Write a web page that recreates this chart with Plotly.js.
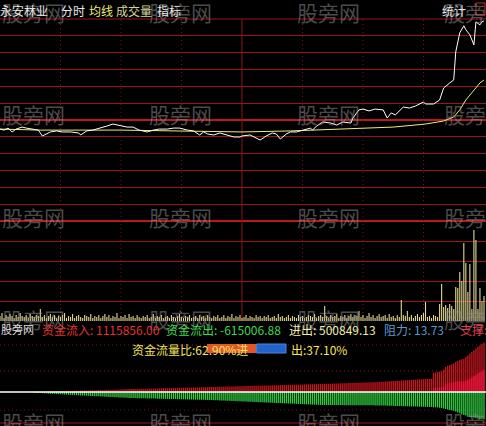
<!DOCTYPE html>
<html>
<head>
<meta charset="utf-8">
<script src="https://cdn.plot.ly/plotly-3.0.1.min.js"></script>
<style>
  html, body { margin: 0; padding: 0; background: #000; }
  #chart { width: 486px; height: 426px; }
</style>
</head>
<body>
<div id="chart"></div>
<script>
// ---- intraday data (minute index 0..240) ----
const stockName = '永安林业';

// price, % change vs previous close
const priceMin = [0, 2, 4, 6, 8, 10, 11, 13, 16, 19, 21, 22, 25, 28, 31, 35, 39, 40, 43, 46,
  50, 53, 56, 60, 63, 66, 69, 73, 76, 79, 83, 86, 89, 93, 96, 99, 101, 103, 106, 109,
  113, 116, 119, 120, 124, 127, 129, 132, 135, 137, 139, 142, 144, 147, 150, 154, 155, 157, 160, 164,
  167, 170, 174, 175, 178, 180, 183, 186, 190, 192, 194, 196, 200, 203, 206, 210, 211, 215, 218, 220,
  223, 225, 226, 228, 230, 231, 233, 235, 236, 238, 239, 240];
const pricePct = [-0.54, -0.60, -0.48, -0.71, -0.54, -0.48, -0.42, -0.48, -0.54, -0.60, -0.95, -0.89, -0.71, -0.65, -0.71, -0.71, -0.77, -0.89, -0.65, -0.60,
  -0.48, -0.36, -0.24, -0.36, -0.42, -0.42, -0.60, -0.71, -0.60, -0.54, -0.54, -0.48, -0.48, -0.60, -0.65, -0.89, -0.71, -0.83, -0.89, -0.77,
  -0.89, -1.01, -1.01, -0.95, -0.89, -1.07, -1.19, -0.95, -0.77, -0.83, -1.13, -0.83, -0.71, -0.71, -0.60, -0.48, -0.60, -0.36, -0.12, -0.18,
  -0.30, -0.12, -0.18, 0.12, 0.60, 0.65, 0.54, 0.65, 0.60, 0.12, 0.42, 0.30, 0.77, 0.71, 0.83, 1.07, 0.95, 0.95, 1.19, 1.90,
  2.20, 2.38, 4.05, 5.18, 5.60, 5.36, 5.06, 4.46, 5.83, 5.65, 5.83, 5.89];

// average price line, % change
const avgMin = [0, 20, 60, 99, 120, 144, 170, 195, 211, 220, 225, 228, 231, 235, 238, 240];
const avgPct = [-0.54, -0.60, -0.60, -0.65, -0.71, -0.65, -0.54, -0.42, -0.24, -0.06, 0.18, 0.60, 1.19, 1.79, 2.20, 2.38];

// volume per minute (lots)
const volume = [
  500, 800, 300, 600, 400, 700, 500, 300, 600, 400,
  800, 500, 400, 600, 300, 700, 500, 400, 600, 500,
  1200, 400, 600, 300, 500, 700, 400, 600, 300, 500,
  400, 600, 800, 300, 500, 400, 700, 300, 500, 600,
  400, 300, 600, 500, 400, 700, 300, 500, 400, 600,
  300, 500, 700, 400, 600, 300, 500, 400, 800, 300,
  500, 400, 600, 300, 700, 400, 500, 300, 600, 400,
  300, 500, 400, 600, 300, 400, 700, 300, 500, 400,
  600, 300, 400, 500, 300, 600, 400, 300, 500, 700,
  400, 300, 500, 400, 600, 300, 400, 500, 300, 600,
  400, 500, 300, 600, 400, 300, 500, 400, 600, 300,
  400, 600, 300, 500, 400, 700, 300, 500, 400, 600,
  300, 400, 600, 300, 500, 400, 300, 600, 400, 500,
  300, 500, 400, 600, 300, 400, 500, 300, 700, 400,
  500, 300, 400, 600, 300, 500, 400, 300, 600, 400,
  500, 300, 400, 600, 500, 400, 700, 300, 500, 600,
  400, 1500, 500, 300, 600, 400, 500, 700, 300, 500,
  400, 600, 300, 500, 700, 400, 600, 500, 1000, 400,
  600, 300, 500, 800, 400, 600, 300, 500, 700, 400,
  500, 600, 300, 700, 400, 500, 300, 600, 400, 2100,
  600, 500, 1000, 400, 600, 300, 500, 700, 400, 600,
  800, 1900, 400, 500, 300, 600, 500, 400, 1700, 3700,
  1400, 1600, 1300, 1700, 1500, 1200, 3400, 3300, 4900, 4000,
  7800, 5800, 2900, 5700, 1200, 9100, 8100, 1200, 3300, 2000, 2500];

// cumulative money inflow (yuan)
const inflow = [
  0, 0, 0, 0, 0, 0, 0, 0, 0, 0, 0, 0, 0, 0, 0, 0, 0,
  7000, 9000, 9000, 11000, 11000, 13000, 14000, 16000, 18000, 18000, 20000,
  22000, 23000, 24000, 24000, 25000, 26000, 27000, 28000, 28000, 29000, 30000, 31000, 32000, 33000, 34000, 35000, 36000, 38000, 39000, 41000, 42000, 44000,
  45000, 46000, 48000, 49000, 51000, 52000, 53000, 55000, 56000, 57000, 59000, 60000, 62000, 63000, 65000, 66000,
  67000, 68000, 69000, 70000, 72000, 73000, 74000, 75000, 76000, 77000,
  79000, 80000, 81000, 82000, 83000, 84000, 86000, 87000, 88000, 89000,
  90000, 91000, 93000, 94000, 95000, 96000, 97000, 98000, 100000, 101000,
  102000, 103000, 104000, 105000, 107000, 108000, 109000, 110000, 111000, 112000,
  113000, 114000, 116000, 117000, 118000, 120000, 121000, 122000, 123000, 125000,
  126000, 127000, 129000, 130000, 131000, 132000, 134000, 135000, 136000, 138000,
  139000, 140000, 141000, 143000, 144000, 145000, 147000, 148000, 149000, 150000,
  152000, 153000, 154000, 156000, 157000, 158000, 159000, 161000, 162000, 163000,
  165000, 166000, 167000, 168000, 170000, 171000, 172000, 174000, 175000, 176000,
  177000, 178000, 179000, 180000,
  181000, 183000, 184000, 186000, 187000, 189000, 190000, 192000, 193000, 195000,
  196000, 198000, 199000, 201000, 202000, 204000, 205000, 207000, 208000, 210000,
  211000, 213000, 214000, 216000, 218000, 220000, 222000, 224000,
  227000, 230000, 232000, 235000, 238000, 241000, 243000, 246000, 249000, 252000,
  255000, 258000, 261000, 264000, 267000, 270000, 272000, 275000, 278000, 281000,
  284000, 287000, 290000, 292000, 295000, 298000, 301000,
  432000, 441000, 450000, 459000, 470000, 500000, 560000, 590000, 610000, 625000,
  640000, 680000, 700000, 720000, 735000, 750000, 790000, 820000, 860000, 900000,
  940000, 980000, 1020000, 1050000, 1080000, 1115856.004];

// cumulative money outflow (yuan)
const outflow = [
  0, 0, 0, 0, 0, 0, 0, 0, 0, 0, 0, 0, 0, 0, 0, 0, 0,
  -15000, -18000, -21000, -24000, -27000, -30000, -33000, -36000, -39000, -42000, -44000,
  -47000, -49000, -52000, -54000, -57000, -59000, -62000, -64000, -66000, -69000,
  -71000, -74000, -76000, -78000, -81000, -83000, -86000, -88000, -90000, -93000,
  -95000, -98000, -100000, -102000, -105000, -107000, -110000, -112000, -114000, -117000,
  -119000, -122000, -124000, -126000, -129000, -131000, -133000, -135000,
  -136000, -137000, -138000, -140000, -141000, -142000, -143000, -144000, -145000, -146000,
  -148000, -149000, -150000, -151000, -152000, -153000, -155000, -156000, -157000, -158000,
  -159000, -160000, -162000, -163000, -164000, -165000, -166000, -167000, -169000, -170000,
  -171000, -172000, -173000, -174000, -176000, -177000, -178000, -179000, -180000, -181000,
  -183000, -185000, -187000, -189000, -191000, -193000, -195000, -197000, -199000, -201000,
  -203000, -206000, -208000, -210000, -212000, -214000, -216000, -218000, -220000, -222000,
  -224000, -226000, -228000, -230000, -232000, -234000, -236000, -238000, -240000, -242000,
  -244000, -246000, -248000, -250000, -252000, -254000, -256000, -258000, -260000, -262000,
  -264000, -266000, -268000, -270000, -273000, -275000, -277000, -279000, -281000, -283000,
  -285000, -287000, -289000, -291000,
  -292000, -292000, -293000, -293000, -293000, -294000, -294000, -294000, -295000, -295000,
  -295000, -296000, -296000, -296000, -297000, -297000, -297000, -298000, -298000, -298000,
  -299000, -299000, -299000, -300000, -300000, -300000, -301000, -301000,
  -302000, -303000, -305000, -306000, -308000, -309000, -310000, -312000, -313000, -314000,
  -316000, -317000, -319000, -320000, -321000, -323000, -324000, -325000, -327000, -328000,
  -330000, -331000, -332000, -334000, -335000, -336000, -338000,
  -341000, -344000, -348000, -355000, -362000, -372000, -385000, -395000, -403000, -410000,
  -420000, -440000, -460000, -480000, -500000, -515000, -530000, -545000, -560000, -570000,
  -580000, -590000, -598000, -605000, -610000, -615006.876];

const flowRatio = 62.90;   // 资金流量比, % in
const resistance = 13.73;  // 阻力
const support = 12.15;     // 支撑

// ---- derived series ----
const minutes = volume.map((_, i) => i);
const netFlow = inflow.map((v, i) => v + outflow[i]);
const netPositive = netFlow.map(v => (v > 0 ? v : 0));
const last = inflow.length - 1;

// ---- page geometry helpers (pixel -> paper) ----
const W = 486, H = 426;
const FONT = '"Noto Sans CJK SC", "Noto Sans", sans-serif';
const fx = px => px / W;
const fy = py => (H - py) / H;
const GRID = '#9a1418';
const DOTS = '#7c1216';

const traces = [
  { type: 'bar', x: minutes, y: volume, xaxis: 'x', yaxis: 'y2', width: 0.55,
    marker: { color: '#e2d792', line: { width: 0 } }, hoverinfo: 'skip' },
  { type: 'bar', x: minutes, y: inflow, xaxis: 'x', yaxis: 'y3', width: 0.66,
    marker: { color: '#c8161f', line: { width: 0 } }, hoverinfo: 'skip' },
  { type: 'bar', x: minutes, y: outflow, xaxis: 'x', yaxis: 'y3', width: 0.66,
    marker: { color: '#32cc42', line: { width: 0 } }, hoverinfo: 'skip' },
  { type: 'bar', x: minutes, y: netPositive, xaxis: 'x', yaxis: 'y3', width: 0.66,
    marker: { color: '#f4143e', line: { width: 0 } }, hoverinfo: 'skip' },
  { type: 'scatter', mode: 'lines', x: avgMin, y: avgPct, xaxis: 'x', yaxis: 'y',
    line: { color: '#f0ee78', width: 1 }, hoverinfo: 'skip' },
  { type: 'scatter', mode: 'lines', x: priceMin, y: pricePct, xaxis: 'x', yaxis: 'y',
    line: { color: '#ffffff', width: 1 }, hoverinfo: 'skip' }
];

// horizontal rules
const shapes = [];
const hline = (py, color, width, dash) => shapes.push({
  type: 'line', xref: 'paper', yref: 'paper', x0: 0, x1: 1, y0: fy(py), y1: fy(py),
  line: { color, width, dash: dash || 'solid' }, layer: 'below'
});
hline(19, GRID, 1);
hline(221, '#b8181e', 2);
shapes.push({ type: 'line', xref: 'paper', yref: 'y', x0: 0, x1: 1, y0: 0, y1: 0,
  line: { color: '#b8181e', width: 2 }, layer: 'below' });
[345, 371, 410].forEach(py => hline(py, DOTS, 1, '1px,3px'));
hline(423, '#a0141a', 1);

// time dividers every 30 minutes
for (let m = 30; m <= 210; m += 30) {
  const mid = m === 120;
  shapes.push({ type: 'line', xref: 'x', yref: 'paper', x0: m, x1: m, y0: fy(321), y1: fy(19),
    line: { color: mid ? '#8e1418' : DOTS, width: 1, dash: mid ? 'solid' : '1px,3px' },
    layer: 'below' });
}

// zero line of the money-flow panel
shapes.push({ type: 'line', xref: 'paper', yref: 'y3', x0: 0, x1: 1, y0: 0, y1: 0,
  line: { color: '#ffffff', width: 1.5 }, layer: 'above' });

// in/out ratio bar
const barX0 = 207, barX1 = 286, barY0 = 344, barY1 = 353;
const split = barX0 + (barX1 - barX0) * flowRatio / 100;
shapes.push({ type: 'rect', xref: 'paper', yref: 'paper', x0: fx(barX0), x1: fx(split),
  y0: fy(barY1), y1: fy(barY0), fillcolor: '#e0582a', line: { width: 0 }, layer: 'above' });
shapes.push({ type: 'rect', xref: 'paper', yref: 'paper', x0: fx(split), x1: fx(barX1),
  y0: fy(barY1), y1: fy(barY0), fillcolor: '#2264cc', line: { color: '#4a86e0', width: 1 }, layer: 'above' });

// small toolbar icon, top right
shapes.push({ type: 'rect', xref: 'paper', yref: 'paper', x0: fx(476), x1: fx(485),
  y0: fy(15), y1: fy(3), fillcolor: 'rgba(0,0,0,0)', line: { color: '#d02028', width: 1 }, layer: 'above' });

// text
const annotations = [];
const txt = (text, px, py, color, size) => annotations.push({
  text, x: fx(px), y: fy(py), xref: 'paper', yref: 'paper', xanchor: 'left', yanchor: 'middle',
  showarrow: false, borderpad: 0, font: { family: FONT, size: size || 12, color }
});

// site watermark
[12, 114, 217, 319, 422].forEach(py => {
  [1, 148, 296, 443].forEach(px => txt('股旁网', px, py, 'rgba(150,150,150,0.5)', 21));
});

txt(stockName, -1, 10, '#e8e8e8');
txt('分时', 60, 10, '#e8e8e8');
txt('均线', 88, 10, '#ecea78');
txt('成交量', 115, 10, '#d8d49a');
txt('指标', 156, 10, '#e8e8e8');
txt('统计', 441, 10, '#e8e8e8');

txt('股旁网', 0, 329, '#dcdcdc', 11);
txt('资金流入: ' + inflow[last].toFixed(2), 41, 329, '#e43232');
txt('资金流出: ' + outflow[last].toFixed(2), 165, 329, '#3ed84c');
txt('进出: ' + netFlow[last].toFixed(2), 288, 329, '#f0eaa8');
txt('阻力: ' + resistance.toFixed(2), 383, 329, '#5c98cc');
txt('支撑: ' + support.toFixed(2), 459, 329, '#e2404e');

txt('资金流量比:' + flowRatio.toFixed(2) + '%进', 131, 349, '#f2e45c');
txt('出:' + (100 - flowRatio).toFixed(2) + '%', 290, 349, '#f2e45c');

const hidden = { showgrid: false, zeroline: false, showticklabels: false, ticks: '', showline: false, fixedrange: true };

const layout = {
  width: W, height: H,
  margin: { l: 0, r: 0, t: 0, b: 0, pad: 0 },
  paper_bgcolor: '#000000',
  plot_bgcolor: 'rgba(0,0,0,0)',
  showlegend: false,
  barmode: 'overlay',
  xaxis: Object.assign({}, hidden, { domain: [0, 1], range: [0, 241] }),
  yaxis: Object.assign({}, hidden, {
    domain: [fy(221), fy(19)], range: [-6, 6],
    showgrid: true, gridcolor: GRID, gridwidth: 1,
    tickvals: [-5, -4, -3, -2, -1, 1, 2, 3, 4, 5]
  }),
  yaxis2: Object.assign({}, hidden, {
    domain: [fy(321), fy(221)], range: [0, 10000],
    showgrid: true, gridcolor: GRID, gridwidth: 1,
    tickvals: [2000, 4000, 6000, 8000]
  }),
  yaxis3: Object.assign({}, hidden, {
    domain: [fy(424), fy(340)], range: [-720000, 1170000]
  }),
  shapes, annotations
};

Plotly.newPlot('chart', traces, layout, { staticPlot: true, displayModeBar: false });
</script>
</body>
</html>
